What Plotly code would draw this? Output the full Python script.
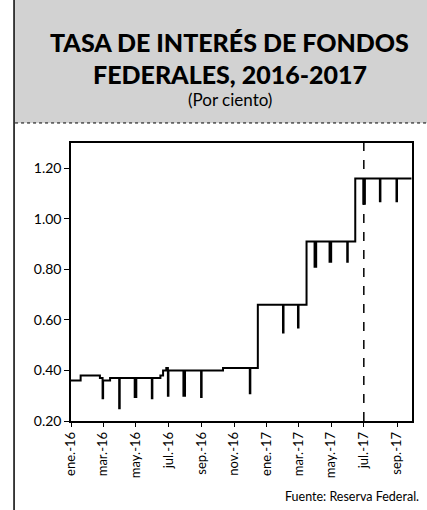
import plotly.graph_objects as go

# Effective federal funds rate (percent), step changes and month-end dips
fechas = [
    "2016-01-01", "2016-01-19", "2016-02-24", "2016-02-29", "2016-03-01", "2016-03-14",
    "2016-03-31", "2016-04-01", "2016-04-29", "2016-05-02", "2016-05-31", "2016-06-01",
    "2016-06-16", "2016-06-21", "2016-06-27", "2016-06-30", "2016-07-01", "2016-07-29",
    "2016-08-01", "2016-08-31", "2016-09-01", "2016-10-11", "2016-11-30", "2016-12-01",
    "2016-12-15", "2017-01-31", "2017-02-01", "2017-02-28", "2017-03-01", "2017-03-16",
    "2017-03-31", "2017-04-03", "2017-04-28", "2017-05-01", "2017-05-31", "2017-06-01",
    "2017-06-15", "2017-06-30", "2017-07-03", "2017-07-31", "2017-08-01", "2017-08-31",
    "2017-09-01", "2017-09-28",
]
tasa = [
    0.36, 0.38, 0.37, 0.29, 0.36, 0.37,
    0.25, 0.37, 0.295, 0.37, 0.29, 0.37,
    0.38, 0.40, 0.41, 0.30, 0.40, 0.30,
    0.40, 0.295, 0.40, 0.41, 0.31, 0.41,
    0.66, 0.55, 0.66, 0.57, 0.66, 0.91,
    0.81, 0.91, 0.83, 0.91, 0.83, 0.91,
    1.16, 1.06, 1.16, 1.07, 1.16, 1.07,
    1.16, 1.16,
]

tick_fechas = ["2016-01-01", "2016-03-01", "2016-05-01", "2016-07-01", "2016-09-01",
               "2016-11-01", "2017-01-01", "2017-03-01", "2017-05-01", "2017-07-01",
               "2017-09-01"]
tick_textos = ["ene.-16", "mar.-16", "may.-16", "jul.-16", "sep.-16", "nov.-16",
               "ene.-17", "mar.-17", "may.-17", "jul.-17", "sep.-17"]
y_ticks = [0.20, 0.40, 0.60, 0.80, 1.00, 1.20]
linea_ref = "2017-07-01"

FONT = "Lato"

fig = go.Figure()
fig.add_trace(go.Scatter(
    x=fechas, y=tasa, mode="lines", line=dict(color="black", width=2, shape="hv"),
    showlegend=False, hoverinfo="skip",
))

fig.add_shape(type="line", x0=linea_ref, x1=linea_ref, xref="x", yref="y",
              y0=0.20, y1=1.30, line=dict(color="black", width=1.5, dash="dash"))

# header band
fig.add_shape(type="rect", xref="paper", yref="paper", x0=-0.164, x1=1.06,
              y0=1.072, y1=1.52, fillcolor="#d2d2d2", line=dict(width=0), layer="below")
fig.add_shape(type="line", xref="paper", yref="paper", x0=-0.164, x1=1.06,
              y0=1.072, y1=1.072, line=dict(color="black", width=1, dash="dot"))
# left frame line
fig.add_shape(type="line", xref="paper", yref="paper", x0=-0.167, x1=-0.167,
              y0=-0.33, y1=1.52, line=dict(color="black", width=1.5))

fig.add_annotation(text="TASA DE INTERÉS DE FONDOS", xref="paper", yref="paper",
                   x=0.465, y=1.363, showarrow=False, xanchor="center", yanchor="middle",
                   font=dict(family=FONT, size=25, color="black", weight=900))
fig.add_annotation(text="FEDERALES, 2016-2017", xref="paper", yref="paper",
                   x=0.465, y=1.248, showarrow=False, xanchor="center", yanchor="middle",
                   font=dict(family=FONT, size=25, color="black", weight=900))
fig.add_annotation(text="(Por ciento)", xref="paper", yref="paper",
                   x=0.465, y=1.155, showarrow=False, xanchor="center", yanchor="middle",
                   font=dict(family=FONT, size=17, color="black"))
fig.add_annotation(text="Fuente: Reserva Federal.", xref="paper", yref="paper",
                   x=1.026, y=-0.273, showarrow=False, xanchor="right", yanchor="middle",
                   font=dict(family=FONT, size=12.5, color="black"))

fig.update_xaxes(
    type="date", range=["2016-01-01", "2017-09-29"],
    tickvals=tick_fechas, ticktext=tick_textos, tickangle=-90,
    ticks="outside", ticklen=4, tickcolor="black", showgrid=False,
    showline=True, linecolor="black", linewidth=1.5, mirror=True,
    tickfont=dict(family=FONT, size=13, color="black"), zeroline=False,
)
fig.update_yaxes(
    range=[0.20, 1.30], tickvals=y_ticks, tickformat=".2f",
    ticks="outside", ticklen=5, tickcolor="black", showgrid=False,
    showline=True, linecolor="black", linewidth=1.5, mirror=True,
    tickfont=dict(family=FONT, size=14, color="black"), zeroline=False,
)
fig.update_layout(
    width=427, height=510,
    margin=dict(l=71, r=15, t=143, b=89),
    paper_bgcolor="white", plot_bgcolor="white",
    font=dict(family=FONT, color="black"),
)
fig.write_html("out.html", config={"displayModeBar": False},
               post_script="document.body.style.margin='0';document.body.style.overflow='hidden';")
